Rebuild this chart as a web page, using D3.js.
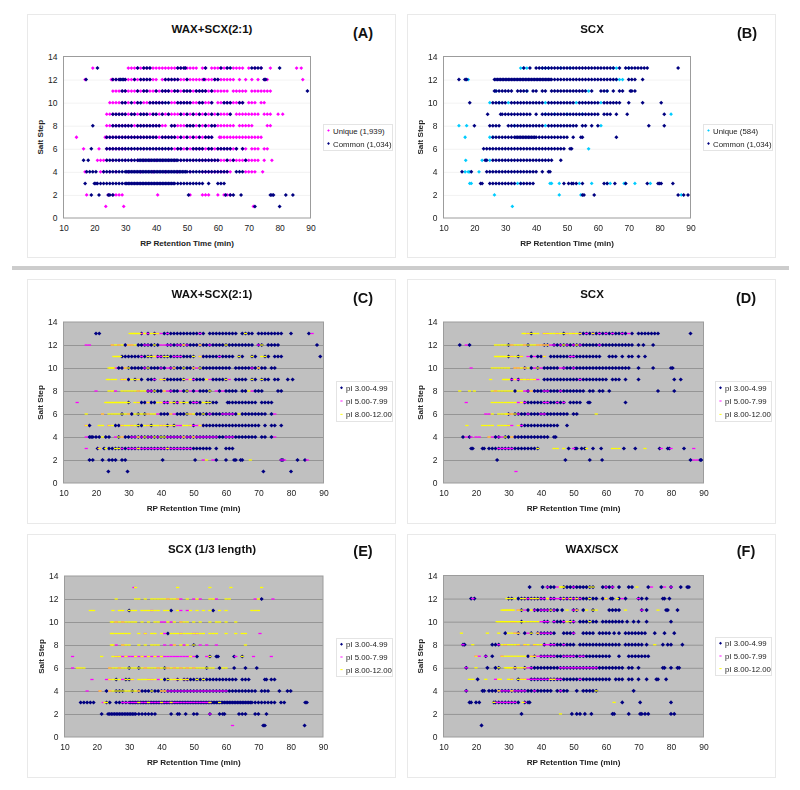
<!DOCTYPE html>
<html><head><meta charset="utf-8">
<script src="https://cdnjs.cloudflare.com/ajax/libs/d3/7.8.5/d3.min.js"></script>
<style>html,body{margin:0;padding:0;background:#fff}svg{display:block;filter:blur(0.35px)}text{font-family:"Liberation Sans",Arial,sans-serif}</style>
</head><body><svg id="c" width="800" height="790"></svg>
<script>
const saltSteps=[13,12,11,10,9,8,7,6,5,4,3,2,1];
const xTicks=[10,20,30,40,50,60,70,80,90];
const yTicks=[0,2,4,6,8,10,12,14];
const xLabel="RP Retention Time (min)", yLabel="Salt Step";
const uniqueCommon=["Common (1,034)"];
const piNames=["pI 3.00-4.99","pI 5.00-7.99","pI 8.00-12.00"];

const aUnique=[
[19.5,31,32,33,34,35,36,37,38,39,40,41,42,43,44,45,46,47,48,49,50,51,52,53,55,56,58,59,60,61,62,63,65,66,67,68,70,72,74,77,85.5,87],
[17,25.5,26,27,28,30,31,32,33,34,35,36,37,38,39,40,42,43,44,45,46,47,48,49,50,51,52,53,54,55,56,57,58,59,60,61,62,63,64,65,67,69,71,73,75,76,87.5],
[26,27,28,29,30,31,32,33,34,35,36,37,38,39,40,41,42,43,44,45,46,47,48,49,50,51,52,53,54,55,56,57,58,59,60,61,62,63,65,66,67,68,69,71,72,73,74,75,76,77],
[25,26,27,28,29,30,31,33,34,36,37,38,39,40,41,42,45,46,47,48,49,50,51,52,53,54,55,56,57,58,60,61,62,63,64,65,66,67,68,70,71,72,74,75],
[24,25,26,27,28,29,30,31,32,33,34,35,36,37,38,39,40,41,42,43,44,45,46,47,48,49,50,51,52,53,54,55,56,57,58,59,61,62,63,64,66,67,68,69,70,71,72,73,75,76,77,79.5,81],
[24,25,26,27,28,29,30,31,32,33,34,35,36,37,38,39,40,41,42,43,45,46,47,48,49,50,51,52,53,55,56,57,58,59,60,61,62,63,64,65,67,68,69,70,71,76,77],
[14.2,23.5,24,25,26,27,28,29,30,31,32,33,34,35,36,37,38,39,40,41,42,43,44,45,46,47,48,49,50,51,52,53,54,55,56,57,58,60.5,61,62,63,64,65,66,67,68,69,70,71,72,73,74],
[16.5,21.5,24,25,26,27,28,29,30,32,34,36,38,40,42,44,46,47,48,49,50,51,52,53,54,55,56,57,58,59,60,61,62,63,64,65,66,68,69,71,72,73,75,76],
[21,22,23,24,26,28,30,32,34,36,38,40,42,44,46,48,50,52,54,55,56,57,58,59,60,61,62,63,64,65,66,67,68,69,70,71,72,73,75,77.5],
[17,22,23,25,27,31,35,39,43,47,51,55,56,57,58,59,60,61,62,63,64,69,70,71,72,74.5],
[],
[17.5,24.5,26,27,28,29,40.5,51,55,56,57,60,62,63,64],
[23.7,29.5,71.5]];
const aCommon=[
[21,34,36,37,38,47,48,49,49.5,56,61,63,64,71,72,73,74,80],
[17.3,26,27,28,28.5,29,29.5,30,33,35,36,37,38,43,44,45,46,47,50,55.5,59,60,75,75.5],
[29,30,34,36,37,40,42,43,44,46,47,49,50,51,53,54,55,56,58,89],
[29,30,32,34,35,38,39,40,41,42,43,44,47,48,49,50,51,54,55,58,62,63,64,67,68],
[26,27,28,29,30,32,33,35,36,37,39,40,42,44,48,50,52,54,56,58,60,64],
[19.5,26,27,28,29,30,31,32,34,35,36,37,38,39,40,41,45,46,50,51,52,54,56,58,59],
[24,25,26,27,28,29,30,31,32,33,34,35,36,37,38,39,40,42,43,44,45,46,48,50,52,54,56,57,58],
[19,24,25,26,27,28,29,30,31,32,33,34,35,36,37,38,39,40,41,42,43,44,45,47,48,50,52,53,54,55,57,58,60,61,62,63,64,66,68],
[16.5,18,24,25,26,27,28,29,30,31,32,33,34,34.5,35,35.5,36,36.5,37,37.5,38,38.5,39,39.5,40,40.5,41,41.5,42,42.5,43,43.5,44,44.5,45,45.5,46,46.5,47,48,49,50,51,52,53,54,55,56,57,58,59,60,63,65,69],
[17.5,18.5,19.5,20.5,23,24,25,26,27,28,29,30,30.5,31,31.5,32,32.5,33,33.5,34,34.5,35,35.5,36,36.5,37,37.5,38,38.5,39,39.5,40,40.5,41,41.5,42,42.5,43,43.5,44,44.5,45,45.5,46,46.5,47,47.5,48,48.5,49,49.5,50,51,52,53,54,55,56,57,58,59,60,61,62,63,66,67,68],
[17,20,20.5,21,22,23,24,25,26,27,28,29,30,30.5,31,31.5,32,32.5,33,33.5,34,34.5,35,35.5,36,36.5,37,37.5,38,38.5,39,39.5,40,40.5,41,41.5,42,42.5,43,43.5,44,44.5,45,45.5,46,47,48,49,50,51,52,53,54,55,57,60,61,62],
[19,21.5,24.5,25,26,50.5,62.5,64,65,67.5,77,77.5,78,82,84.3],
[72,80]];
const bUnique=[
[35,36,37,42,43,44,48,51,65,66,70],
[18,66,67,68],
[27,37,57,63],
[25,28,31,43,53,61],
[43,46,50,55,83.7],
[15,17.5,33,43,61],
[17,25,26],
[57],
[17.2,22.5,25],
[17,18,18.5,21.5],
[18.5,19,34,35,44.5,45,47.5,54,58,63,64,68.5,69,72,77],
[26.5,47.5,54.5,87],
[32.3]];
const bCommon=[
[36,38,40,41,42,43,44,45,46,47,48,49,50,51,52,53,54,55,56,57,58,59,60,61,62,63,64,65,67,69,70,71,72,73,74,75,76,86],
[15,17,17.5,26.5,27,27.5,28,28.5,29,29.5,30,30.5,31,31.5,32,32.5,33,33.5,34,34.5,35,35.5,36,36.5,37,37.5,38,38.5,39,39.5,40,40.5,41,41.5,42,42.5,43,43.5,44,44.5,45,46,47,48,49,50,51,52,53,54,55,56,57,58,59,60,61,62,63,64,65,66,70,71,72,74.5],
[26.5,27,28,29,30,31,32,34,35,36,37,39,40,42,43,45,46,47,48,49,50,51,52,53,54,55,56,58,61,62,63,65,67,68,70.5,71,72],
[18.5,26,27,28,29,30,32,33,34,35,36,37,38,39,40,41,42,44,45,46,47,48,49,50,51,52,54,55,56,57,58,59,60,62,63,64,65,66,67,70,74.5,80.5],
[24.3,28.5,29,30,31,32,33,34,35,36,37,38,40,42,43,44,45,46,47,48,49,50,51,52,53,54,55,56,57,58,59,60,62,63,64,66,69.5,81.5],
[20,25,26,27,28,31,32,33,34,35,36,37,38,39,40,41,42,44,45,46,47,48,49,50,51,52,53,55,56,58,60,76.5,81.5],
[26,27,28,29,30,31,32,33,33.5,34,34.5,35,35.5,36,36.5,37,37.5,38,38.5,39,39.5,40,41,42,43,44,45,46,47,48,49,50,52,54.5,55,66],
[23,24,25,26,27,28,29,30,31,32,33,34,35,36,37,38,39,40,41,42,43,44,45,46,47,48,49,51,51.5],
[23.5,24,26,27,28,29,30,31,32,33,34,35,36,37,38,39,40,41,42,43,44,45,48],
[16,19,24,25,26,27,28,29,30,31,32,33,34,35,36,37,38,39,40,42,44,44.5],
[22,22.5,25,26,27,28,29,30,31,32,33,35,36,37,38,39,49,50.5,51.5,52,53,55,62,63,65.5,69,76,79.5,80,80.5,84.3],
[55,55.5,58.8,86,87.8,89.2],
[]];
const cNavy=[
[20,21,34,36,38,41,42,43,44,45,46,47,48,49,50,51,52,53,55,56,57,58,59,60,61,62,63,65,66,67,68,70,71,72,73,74,75,76,77,80,85.5],
[29,33,34,35,36,37,38,39,42,43,44,45,46,47,48,49,50,51,52,53,54,55,56,57,58,59,60,61,62,63,64,65,66,67,68,70,71,73,74,75,76,88],
[28,29,30,31,32,33,34,35,36,37,39,40,41,42,43,44,45,46,47,48,49,50,53,54,55,56,57,58,59,60,61,62,64,65,68,69,72,73,75,76,77,89],
[27,28,30,31,32,33,34,35,36,37,38,39,40,41,43,44,45,46,47,48,49,50,52,53,54,55,56,57,58,59,60,61,63,64,65,66,67,68,69,70,71,72,74,75],
[30,32,34,36,37,38,41,42,43,44,45,46,47,50,51,52,53,56,57,58,59,60,63,64,65,66,68,69,71,72,73,75,76,79,80.5],
[36,37,38,39,40,43,44,45,47,48,50,52,53,54,55,58,60,61,62,63,65,66,69,70,71,76,77],
[30,34,35,37,38,41,42,44,45,47,49,50,51,52,54,55,56,57,60.5,61,62,63,64,65,66,67,68,69,71,72,73,74],
[28,31,33,35,40,41,42,45,46,47,48,51,52,53,54,55,56,57,58,59,60,61,62,63,65,66,67,68,69,70,71,72,74],
[18,26,27,33,34,37,42,44,50,53,54,55,56,57,58,59,60,61,62,63,64,65,66,67,68,69,70,72,74,75,77],
[18,18.5,19,20,21,23,24,27,29,30,31,32,33,34,35,36,37,38,39,40,41,42,43,44,45,46,47,48,49,50,51,52,53,54,55,56,57,58,59,60,61,62,63,64,65,66,67,68,69,71,72,74],
[20.5,22.5,24,25,26,27,28,29,30,31,32,33,34,35,36,37,38,39,40,41,42,43,44,45,46,47,48,49,50,51,52,53,54,55,57,60,61,62],
[18,19,22,24,25,26,28,29,40.5,50.5,57,60,62.5,63,64.5,65,77,77.5,82,84.3],
[23.8,29.7,71.5,80]];
const cMagenta=[
[34,36,38,39,40,42,52,86.5],
[17,18,25,27,30,31,35,36,40,41,42,43,45,46,47,48,52,55,70],
[34,38,39,40,44,45,46,52,58],
[26,29,35,40,42,43,44,50,51,68,70],
[28,29,33,38,40,41,48,50,55,61],
[20,26,33,36,37,41,42,43,46,49,51,57,59,68],
[14.2,33,36,40,41,42,43,45,46,50,51],
[22,30,36,39,43,44,49,55,59,60,61,62,75],
[17,24,28,31,36,40,41,43,45,46,49,50,51,52],
[17,26,28,31,32,33,34,36,37,39,42,43,44,45,46,47,48,49,50,51,52,53,54,55,56,57,60,61,62,75],
[17,21,28,30,31,32,33,34,35,36,37,38,39,40,41,42,43,44,45,46,47,48,49],
[53,56,77,78,85],
[]];
const cYellow=[
[30.5,31,31.5,32,32.5,33,33.5,35,37,38,39,66],
[25,26,27,28,30,31,32,38,47,52,60,71],
[25.5,26,26.5,27,27.5,36,37,38,41,42,50,52,64,68,71,72],
[24,24.5,25,25.5,29,30,36,44,47,50,52,70],
[23.5,24,25,26,28,29,31,32,33,40,41,47,49,54,60,68,71],
[24,25,28,29,30,31,32,33,34,35,38,41,48,55,67],
[23,23.5,24,24.5,25,25.5,26,26.5,27,27.5,28,28.5,29,29.5,30,32,33,36,39,40,43,44,46,47,48,53,54,55],
[17,22,24,25,26,27,28,29,30,32,33,34,35,36,37,38,43,48,49,50,53,64],
[17,21,22,24,25,28,29,30,31,32,33,35,36,37,38,39,40,41,42,43,44,47,48,49,52],
[22,27,28,33,35,38,40,41,47,50],
[21,23,26,27,33,42],
[54,67.5],
[]];
const dNavy=[
[37,47,52,53,54,55,56,57,58,59,60,61,62,63,64,65,66,68,70,71,72,73,74,75,76,86],
[15,18,30,36,41,42,44,45,46,47,48,49,50,51,52,53,54,55,56,57,58,59,60,61,62,63,64,65,66,67,68,70,71.5,74.5],
[30,33,37,39,40,43,44,45,46,47,48,49,50,51,52,53,54,55,56,57,58,61,62,63,65,67,68,70,72],
[35,37,39,41,42,43,44,45,47,48,49,50,51,52,53,54,55,56,57,58,59,60,61,62,63,64,65,66,67,70,74.5,80,80.5],
[31,33,41,42,43,44,45,46,47,48,49,50,51,52,53,54,55,56,57,58,59,60,62,63,64,66,70,81,83],
[32,36,38,39,40,41,42,43,44,45,46,47,48,49,50,51,52,53,55,56,58,59,61,76,81],
[35,36,37,38,39,40,41,42,43,44,45,46,47,49,50,51,52,54.5,55,66],
[30,32,33,34,35,36,37,38,39,40,41,42,43,44,45,46,47,48,50,51],
[34,35,36,37,38,39,40,41,42,43,44,45,48],
[16,18,26,27,29,30,32,33,34,35,36,37,38,39,40,41,42,44,44.5],
[18.5,19,22,22.5,24,25,26,27,28,29,30,31,32,33,34,35,36,37,38,39,48.5,50.5,51,52.5,53.5,56,58.5,65.5,69,76.5,79,79.5,84],
[26.5,47.5,55,58.8,86,89,89.3],
[]];
const dMagenta=[
[36,41,42,45,48,50,52,54,56,58,60,62,65,67],
[17,31,35,39,40,41,42,43,44,46,48,50,52,58],
[31,34,36,38,41,49,50],
[18.5,32,33,35,38,40,46,47,50],
[31,32,33,34,36,38,39,52],
[26,35,36,37,41,42,46],
[17,33,34,35,41,42,45,47],
[23,24,30,31,33,36,40,41],
[30,31,34],
[17,18.5,20,21,24,25,27,28,31],
[27,28,29,30,31,50,77,80,87],
[87,88],
[32.3]];
const dYellow=[
[34.5,35,36,37,38,39,41,42,43,44,45,46,47,48,49,50,51,52,56],
[26,27,28,29,30,31,32,33,34,35,36,37,38,39,40,41,42,47,51],
[26,26.5,27,27.5,28,28.5,29,29.5,30,31,32,33,34,41],
[25,26,27,28,29,30,32,33,34,35,36,39],
[24.5,28.5,29,29.5,30,32,34,35,36,37,38],
[15,18,19.5,25,26,27,28,29,30,31,33,34,37],
[25,26,27,28,29,30,31,32,34],
[25,27,28,29,29.5,30,31,32,57],
[17.2,22,23,24,25,27,28,29,30,33],
[24,29,31],
[39,44,45,47,54,62,63,64,72],
[],
[]];
const eNavy=[
[],
[71],
[30,43,56],
[],
[42],
[50],
[51,55,57,57.5,62.5,65],
[30,33,41,54,58,62.5,66,69.5],
[26,29,30,41,42,45,47,48,49,50,51,52,53,54,55,56,57,58,59,60,61,62,63,65,66,67,72,72.5,74,75],
[23,26,27,28,31,33,34,35,36,37,38,39,40,41,42,43,44,45,46,47,48,49,50,51,52,53,54,55,56,57,58,59,60,61,62,63,64,65,66,67,68,69,71,72,73,76.5,79,80],
[15,16,17,18,19,23,24,26,27,28,29,30,30.5,31,31.5,32,32.5,33,33.5,34,34.5,35,35.5,36,36.5,37,37.5,38,38.5,39,39.5,40,40.5,41,41.5,42,42.5,43,43.5,44,44.5,45,45.5,46,46.5,47,47.5,48,48.5,49,49.5,50,50.5,51,51.5,52,52.5,53,53.5,54,54.5,55,55.5,56,56.5,57,57.5,58,58.5,59,59.5,60,60.5,61,61.5,62,62.5,63,63.5,64,64.5,65,65.5,66,66.5,67,67.5,68,69,70,71,72,73,74,75,77,78,84.5,85],
[21.5,23.5,24,24.5,25,25.5,26,26.5,27,27.5,28,28.5,29,29.5,30,30.5,31,31.5,32,33,34,35,36,37,38,43,45,45.5,47.5,50,51,55,58,59,59.5,64,65,66,69,70,72.5],
[71.5,72,84.3]];
const eMagenta=[
[31.5],
[42,45,46,50,52,57,69,74.5],
[37,46,48],
[26,28,40,41,43,46],
[35,41,46,50,51,70.5],
[26,28,41,43,44,47,52,54,57],
[12.5,26,27,28,29,30,31,32,33,34,35,36,37,38,39,40,41,42,43,44,45,46,47,48,49,50,54,63,68.5,74],
[12.5,24,27,35,39,42,44,46,48,50],
[18.5,23,24,28,31,36,37,39,44,45,47,48],
[17,21,24,33,40,41,42,43,44,45,46,47,48,49,50,51,52,53,54,55,56,57,58,59,60],
[22,28,29,30,31,32,33,34,35,36,37,38,39,40,41,42,43,44,45,46,47,48,49,50,51,52,53,54,55],
[55],
[62]];
const eYellow=[
[32,45,55,61.5,71],
[26,32,33,35,37,38,39,40,41,42,43,44,45,48,51,55,56,60,61,70],
[18,19,25,27,28,30,31,32,34,35,36,37,38,39,41,42,45,49,51,53,55,58,60,68,69,70],
[24.5,25,26,27,28,29,30,31,32,34,36,38,39,42,44,46,47,48,50,52,55,57,58,60,63],
[24.5,25,26,27,28,29,30,33,35,37,38,40,43,44,45,46,47,48,49,50,51,52,53,55,56,57,60,63,65,66],
[24.5,25,28,29,30,33,35,37,38,39,44,46,48,50,66],
[21.5,25,26,27,29,32,34,36,38,40,49,55,65],
[14,15,16,24,25,26,27,28,29,30,31,32,33,34,35,36,37,38,39,40,41,42,43,44,45,46,47,48,49,50,51,52,53,54,55,56,59,60],
[24,25,26,27,29,30,31,33,34,35,36,37,38,40,42,43,44,45,46,47,48,51,53],
[21,24,25,26,27,28,29,30,31,32,33,37,40,41],
[22.5,23,33,36,40,43,55,58],
[],
[]];
const fNavy=[
[36.5,40.5,42,43,44,47,48,49,50,51,52,53,54,55,56,59,60,61,62,64,67,68,73,77,80,83,85,85.5],
[18.5,19.5,30,31,33,34,35,36,37,38,39,40,41,43,44,46,47,48,49,50,51,52,53,54,55,56,57,59,61.5,62,64,66,70,71,72.5,77.5,78,79.5],
[34,36,38,39,40,41,42,43,44,45,46.5,50,51,53,56,61,62,63,64,71,72.5,78.5,79,82],
[34,41,42,44,45,46,47,49,50,52,53,54,55,56,57,59,60,61,62,63,64,65,66.5,68.5,70,72.5,80],
[29,33,35,37,39,40,41,42,43,44,47,48,49,50,53,54,55,56,58,59,60,61,62.5,64,66,67,68,69,70,71,72,75,78,81],
[16,16.5,25,26,27,41,43,44,45,46,47,48,49,50,52,53,54,55,56,57,58,59,60,61,62,63,64,66,67,68,69,70,71,72.5,77.5,79,80,83.5],
[23,25,36,38,40,41,42,43,44,45,46,47,48,49,50,51,52,53,54,55,56,57,58,59,60,61,64,67,68,69,70,71,72,73],
[17,23.5,26,27,32,35,37,38,39,40,41,42,43,44,45,46,47,48,49,50,51,52,53,54,55,56,57,58,59,60,61,62,63,64,65,67,68,70,77.5,78,80,82,82.5],
[20.5,33,37,38,39,40,41,42,43,44,45,46,47,48,49,50,51,52,53,54,55,56,57,58,59,60,61,63,64,65,67,68,70,72.5,75.5,76,78.5],
[17,22,22.5,24,25,26,27,28,29,30,31,32,33,34,35,36,37,38,39,40,41,42,43,45,46,47,48,51,53,54,55,56,57,68.5],
[18,18.5,20,21,25.5,26,27,28,29,30,31,32,33,35,36,36.5,65,70.5,80],
[34,49.5,51,52,53.5,55.5,62,62.5,67,70.5,71,72,73,80,81],
[21.7]];
const fMagenta=[
[42,45,50,60,62,74,78,80],
[19,35,36,37,38,40,41,43,44,45,46,47,48,49,50,51,52,60,65,70],
[33,35,38,40,41,42,44,50,51,71],
[31,32,40,41,42,44,47,50],
[32,33,36,39,40,41,42,43,50],
[16,27,29,33,35,38,41,42,43,44,47],
[20,21,23,28,37,38,39,40,41,42,43,44,47,48,49,50,52,53],
[17,32,35,36,37,46,47,48,49,50,51,52,53,54,55,56,57],
[26,31,34,35,36,37,38,39,40,41,42,43,44,45,46,52],
[17,27,28,29,30,31,32,33,34,35,38,46],
[26,27,28,29,30,31,32,35],
[],
[]];
const fYellow=[
[46,46.5,47,55,56,69.5],
[29.5,30,31,32,34,35,37,38,39,42,47,49,51,55,60,63.5],
[28,28.5,29,29.5,30,30.5,31,31.5,33,34,37,43,48,51,54,56,57,66,76],
[26.5,27,27.5,28,28.5,29,29.5,30,30.5,31,31.5,32,32.5,33,33.5,34,34.5,35,36,37,38,39,48,49,55],
[15.5,23.5,27,30,31,32,33,37,39],
[19,28,29,30,31,32,33,35,36,38,39,40,75],
[20,28,29,30,31,32,33,34,35,37,38],
[20,27,29,29.5,30,30.5,31,32,33,34,35],
[18,19,23,27,27.5,30,31,33,34,35,43,44],
[27,31,57],
[25.5,34.5,62.5],
[46],
[]];

const NAVY="#000080",MAG="#ff00ff",CYAN="#00ccff",YEL="#ffff00";
const dash={draw(c){c.rect(-1.6,-0.65,3.2,1.3);}};
const small={draw(c){c.moveTo(0,-1.9);c.lineTo(1.9,0);c.lineTo(0,1.9);c.lineTo(-1.9,0);c.closePath();}};
const big={draw(c){c.moveTo(0,-2.1);c.lineTo(2.1,0);c.lineTo(0,2.1);c.lineTo(-2.1,0);c.closePath();}};
const dia={draw(c){c.moveTo(0,-2);c.lineTo(2,0);c.lineTo(0,2);c.lineTo(-2,0);c.closePath();}};

const uc=(u,name,col)=>[{name,values:u[0],color:col,shape:small},{name:uniqueCommon[0],values:u[1],color:NAVY,shape:dia}];
const pi=(n,m,y)=>[{name:piNames[0],values:n,color:NAVY,shape:big},{name:piNames[1],values:m,color:MAG,shape:dash},{name:piNames[2],values:y,color:YEL,shape:dash}];

const panels=[
{title:"WAX+SCX(2:1)",tag:"(A)",tagDx:336,tagY:38,card:[27,14,368,243],plot:[63.5,56.5,310.5,218],bg:"#fff",grid:"#efefef",legend:[323,124,69,26],series:uc([aUnique,aCommon],"Unique (1,939)",MAG)},
{title:"SCX",tag:"(B)",tagDx:340,tagY:38,card:[407,14,368,243],plot:[443.5,56.5,690.5,218],bg:"#fff",grid:"#efefef",legend:[703,124,69,26],series:uc([bUnique,bCommon],"Unique (584)",CYAN)},
{title:"WAX+SCX(2:1)",tag:"(C)",tagDx:336,tagY:302.5,card:[27,279,368,244],plot:[63.5,322,323.5,483],bg:"#c0c0c0",grid:"#8a8a8a",legend:[336,381,56,40],series:pi(cNavy,cMagenta,cYellow)},
{title:"SCX",tag:"(D)",tagDx:339,tagY:302.5,card:[407,279,368,244],plot:[443.5,322,703.5,483],bg:"#c0c0c0",grid:"#8a8a8a",legend:[715,381,56,40],series:pi(dNavy,dMagenta,dYellow)},
{title:"SCX (1/3 length)",tag:"(E)",tagDx:336,tagY:556,card:[27,534,368,243],plot:[64.5,576,323,737],bg:"#c0c0c0",grid:"#8a8a8a",legend:[336,638,56,38],series:pi(eNavy,eMagenta,eYellow)},
{title:"WAX/SCX",tag:"(F)",tagDx:339,tagY:556,card:[407,534,368,243],plot:[443.5,575.5,703.5,737],bg:"#c0c0c0",grid:"#8a8a8a",legend:[715,637,56,38],series:pi(fNavy,fMagenta,fYellow)}
];

const svg=d3.select("#c");
svg.selectAll("line.sep").data([267,269]).join("line").attr("class","sep")
 .attr("x1",12).attr("x2",789).attr("y1",d=>d).attr("y2",d=>d).attr("stroke","#9a9a9a").attr("stroke-width",1);

panels.forEach(p=>{
 const g=svg.append("g");
 const [cx,cy,cw,ch]=p.card,[x0,y0,x1,y1]=p.plot;
 g.append("rect").attr("x",cx+.5).attr("y",cy+.5).attr("width",cw).attr("height",ch).attr("fill","#fff").attr("stroke","#e9e9e9");
 const x=d3.scaleLinear().domain([10,90]).range([x0,x1]);
 const y=d3.scaleLinear().domain([0,14]).range([y1,y0]);
 g.append("rect").attr("x",x0).attr("y",y0).attr("width",x1-x0).attr("height",y1-y0).attr("fill",p.bg);
 g.append("g").attr("transform",`translate(${x0},0)`)
  .call(d3.axisLeft(y).tickValues(yTicks.slice(1,-1)).tickSize(-(x1-x0)).tickFormat(""))
  .call(s=>s.select(".domain").remove())
  .call(s=>s.selectAll("line").attr("stroke",p.grid).attr("stroke-width",.8));
 g.append("rect").attr("x",x0).attr("y",y0).attr("width",x1-x0).attr("height",y1-y0).attr("fill","none").attr("stroke","#9c9c9c").attr("stroke-width",1);
 const ax=g.append("g").attr("transform",`translate(0,${y1})`).call(d3.axisBottom(x).tickValues(xTicks).tickSize(0).tickPadding(7));
 const ay=g.append("g").attr("transform",`translate(${x0},0)`).call(d3.axisLeft(y).tickValues(yTicks).tickSize(0).tickPadding(6));
 [ax,ay].forEach(a=>{a.select(".domain").remove();a.selectAll("text").attr("font-size",8.5).attr("fill","#222").style("font-family",'"Liberation Sans",Arial,sans-serif');});
 p.series.forEach(s=>{
  const pts=s.values.flatMap((r,i)=>r.map(v=>({x:v,y:saltSteps[i]})));
  const sym=d3.symbol().type(s.shape);
  g.append("g").selectAll("path").data(pts).join("path").attr("d",sym)
   .attr("transform",d=>`translate(${x(d.x)},${y(d.y)})`).attr("fill",s.color);
 });
 g.append("text").attr("x",cx+185).attr("y",cy+18.5).attr("text-anchor","middle").attr("font-size",11.5).attr("font-weight","bold").attr("fill","#111").text(p.title);
 g.append("text").attr("x",cx+p.tagDx).attr("y",p.tagY).attr("text-anchor","middle").attr("font-size",14.5).attr("font-weight","bold").attr("fill","#111").text(p.tag);
 g.append("text").attr("x",(x0+x1)/2).attr("y",y1+27.5).attr("text-anchor","middle").attr("font-size",8.1).attr("font-weight","bold").attr("fill","#222").text(xLabel);
 g.append("text").attr("transform",`translate(${x0-20.5},${(y0+y1)/2}) rotate(-90)`).attr("text-anchor","middle").attr("font-size",8.1).attr("font-weight","bold").attr("fill","#222").text(yLabel);
 const [lx,ly,lw,lh]=p.legend;
 g.append("rect").attr("x",lx+.5).attr("y",ly+.5).attr("width",lw).attr("height",lh).attr("fill","#fff").attr("stroke","#e4e4e4");
 const n=p.series.length,st=lh/n;
 p.series.forEach((s,i)=>{
  const yy=ly+st*(i+.5);
  g.append("path").attr("d",d3.symbol().type(s.shape)).attr("transform",`translate(${lx+5.5},${yy}) scale(0.7)`).attr("fill",s.color);
  g.append("text").attr("x",lx+10).attr("y",yy+3).attr("font-size",7.8).attr("fill","#222").text(s.name);
 });
});
</script></body></html>
